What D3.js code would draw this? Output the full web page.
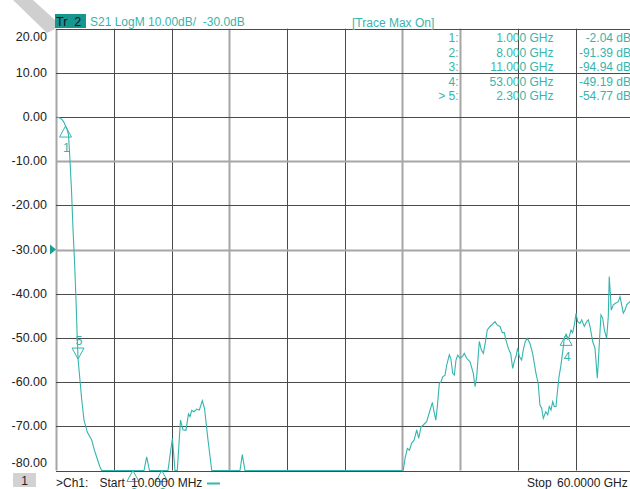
<!DOCTYPE html>
<html><head><meta charset="utf-8">
<script src="https://cdn.jsdelivr.net/npm/d3@7"></script>
<style>
body{margin:0;background:#fff}
svg{display:block;font-family:"Liberation Sans",Arial,sans-serif}
</style>
</head><body>
<svg id="c" width="630" height="489"></svg>
<script>
// ---- data ----
const freqGHz = [0.01,0.22,0.43,0.63,0.84,1.0,1.15,1.31,1.46,1.62,1.78,1.93,2.09,2.19,2.30,2.50,2.68,2.92,3.26,3.72,3.96,4.24,4.58,4.76,5.5,7.0,8.0,9.0,9.15,9.43,9.72,10.2,11.0,11.5,11.64,12.1,12.37,12.61,12.94,13.2,13.51,13.77,13.93,14.11,14.35,14.63,14.90,15.21,15.44,15.8,16.19,17.0,18.5,19.12,19.36,19.64,20.5,23,26,29,32,35,35.9,
36.09,36.27,36.51,36.72,36.96,37.2,37.48,37.69,37.93,38.17,38.52,38.87,39.11,39.21,39.46,39.62,39.83,40.01,40.18,40.42,40.6,40.87,41.02,41.22,41.39,41.56,41.74,41.98,42.26,42.42,42.67,43.02,43.36,43.54,43.71,43.98,44.19,44.4,44.65,44.81,45.09,45.44,45.61,45.85,46.13,46.37,46.58,46.75,46.99,47.24,47.45,47.65,47.79,47.97,48.14,48.38,48.55,48.76,48.96,49.24,49.52,49.87,50.1,50.28,50.46,50.63,50.88,51.09,51.25,51.43,51.61,51.77,51.95,52.08,52.26,52.44,52.65,52.81,53.0,53.16,53.33,53.51,53.68,53.85,54.03,54.2,54.44,54.62,54.89,55.14,55.31,55.48,55.76,56.0,56.24,56.34,56.45,56.62,56.8,56.97,57.21,57.38,57.48,57.59,57.69,57.9,58.18,58.42,58.6,58.77,58.94,59.12,59.29,59.46,59.63,60.0];
const s21dB = [0,-0.1,-0.2,-0.55,-1.2,-2.04,-2.7,-4.05,-9.7,-16.5,-25.6,-32.4,-41.4,-48.2,-54.77,-59.5,-64.0,-68.6,-71.3,-73.1,-75.1,-77.0,-79.2,-80.3,-85,-89,-91.39,-86,-81,-76.9,-81,-88,-94.94,-87,-82,-72.7,-81,-80.5,-68.6,-70.8,-70.9,-67.2,-67.8,-66.4,-66.7,-66.1,-66.3,-64.2,-66.0,-73.1,-80.3,-87,-89,-81,-76.4,-81,-88,-90,-87,-91,-89,-88,-82,
-79.9,-77.2,-75.0,-75.4,-73.8,-73.2,-70.8,-72.7,-70.1,-69.7,-68.9,-66.3,-64.6,-65.9,-68.6,-65.6,-60.3,-59.9,-58.8,-58.4,-56.1,-53.8,-54.6,-58.0,-58.4,-55.0,-53.9,-54.6,-54.1,-53.5,-54.6,-55.4,-58.0,-61.0,-58.8,-50.8,-52.7,-53.5,-50.5,-48.2,-47.4,-46.7,-46.3,-47.1,-47.4,-48.8,-48.8,-50.5,-52.3,-53.5,-56.9,-55.0,-54.2,-52.3,-54.2,-55.0,-52.7,-50.8,-50.1,-51.2,-53.5,-58.0,-60.3,-65.2,-65.9,-68.2,-66.7,-67.4,-65.5,-66.3,-64.4,-65.5,-65.5,-62.5,-58.8,-56.5,-53.1,-50.1,-49.19,-50.3,-49.7,-48.2,-48.8,-47.1,-44.4,-46.3,-46.7,-45.9,-47.4,-46.3,-45.9,-47.4,-50.8,-52.3,-59.1,-55.7,-51.2,-44.8,-45.5,-48.2,-50.1,-45.2,-36.1,-39.9,-43.7,-42.5,-42.1,-41.8,-40.7,-42.5,-44.4,-43.7,-42.5,-42.1,-41.8,-41.4];
const yTickValues = [20,10,0,-10,-20,-30,-40,-50,-60,-70,-80];
const markerIds = [1,2,3,4,5];
const markerFreqGHz = [1.0,8.0,11.0,53.0,2.3];
const markerDB = [-2.04,-91.39,-94.94,-49.19,-54.77];
const activeMarker = 5;
const refLevelDB = -30;
const headerTrace = "Tr  2";
const headerText = "S21 LogM 10.00dB/  -30.0dB";
const headerStatus = "[Trace Max On]";
const startText = "10.0000 MHz";
const stopText = "60.0000 GHz";

// ---- drawing ----
const svg = d3.select("#c");
const teal = "#35b5ae";
const pTop = 28.7, pBottom = 470.5, pLeft = 56, pRight = 633.5;
const x = d3.scaleLinear().domain([0.01, 60]).range([pLeft, pRight]);
const y = d3.scaleLinear().domain([20, -80]).range([pTop, pBottom]).clamp(true);

// page-curl band top-left
svg.append("polygon").attr("points","13,0 33,0 55,20 55,29 47,33").attr("fill","#cfcfcf");

// grid
const lightV = new Set([0,3,6,7]);
const lightH = new Set([-10,-30]);
const step = (60 - 0.01) / 10;
const g = svg.append("g");
d3.range(0, 11).forEach(i => {
  const xv = Math.round(x(0.01 + i * step)) + 0.5;
  g.append("line").attr("x1", xv).attr("x2", xv).attr("y1", pTop).attr("y2", pBottom)
    .attr("stroke", lightV.has(i) ? "#a6a6a6" : "#4a4a4a").attr("stroke-width", lightV.has(i) ? 2 : 1);
});
yTickValues.forEach(v => {
  const yv = Math.round(y(v)) + 0.5;
  g.append("line").attr("x1", pLeft).attr("x2", 630).attr("y1", yv).attr("y2", yv)
    .attr("stroke", lightH.has(v) ? "#a6a6a6" : "#4a4a4a").attr("stroke-width", lightH.has(v) ? 2 : 1);
});

// y axis labels
const ax = svg.append("g").attr("transform", "translate(47,0)")
  .call(d3.axisLeft(y).tickValues(yTickValues).tickSize(0).tickPadding(0).tickFormat(d => d.toFixed(2)));
ax.select(".domain").remove();
ax.selectAll(".tick").attr("transform", d => `translate(0,${Math.max(pTop + 8.5, Math.min(pBottom - 8, y(d)))})`);
ax.selectAll("text").attr("font-size", "12.5px").attr("fill", "#222").attr("font-family", '"Liberation Sans",Arial,sans-serif');

// reference level arrow
const ry = y(refLevelDB);
svg.append("path").attr("d", `M50,${ry-5}L56,${ry}L50,${ry+5}Z`).attr("fill", "#1a9e96");

// trace
const pts = freqGHz.map((f, i) => [f, s21dB[i]]);
svg.append("path").datum(pts)
  .attr("d", d3.line().x(d => x(d[0])).y(d => y(d[1])))
  .attr("fill", "none").attr("stroke", teal).attr("stroke-width", 1.1);

// markers
markerIds.forEach((id, i) => {
  const px = x(markerFreqGHz[i]);
  const py = y(markerDB[i]);
  const active = id === activeMarker;
  const h = 11, w = 6;
  const by = active ? py - h : py + h;
  svg.append("path").attr("d", `M${px},${py}L${px - w},${by}L${px + w},${by}Z`)
    .attr("fill", "none").attr("stroke", teal).attr("stroke-width", 1);
  svg.append("text").attr("x", px + 1).attr("y", active ? py - 18 : py + 22).attr("dy", "0.35em")
    .attr("text-anchor", "middle").attr("font-size", "12.5px").attr("fill", teal).text(id);
});

// header
svg.append("rect").attr("x", 55).attr("y", 14).attr("width", 31).attr("height", 14).attr("fill", "#16968f");
svg.append("text").attr("x", 56).attr("y", 26).attr("font-size", "12.5px").attr("fill", "#111")
  .style("white-space", "pre").text(headerTrace);
svg.append("text").attr("x", 90).attr("y", 26).attr("font-size", "12px").attr("fill", teal)
  .style("white-space", "pre").text(headerText);
svg.append("text").attr("x", 352).attr("y", 26.5).attr("font-size", "12px").attr("fill", teal).text(headerStatus);

// marker table
markerIds.forEach((id, i) => {
  const by = 42 + i * 14.5;
  svg.append("text").attr("x", 458.5).attr("y", by).attr("text-anchor", "end").attr("font-size", "12px").attr("fill", teal)
    .text((id === activeMarker ? "> " : "") + id + ":");
  svg.append("text").attr("x", 553.5).attr("y", by).attr("text-anchor", "end").attr("font-size", "12px").attr("fill", teal)
    .text(markerFreqGHz[i].toFixed(3) + " GHz");
  svg.append("text").attr("x", 631).attr("y", by).attr("text-anchor", "end").attr("font-size", "12px").attr("fill", teal)
    .text(markerDB[i].toFixed(2) + " dB");
});

// footer
svg.append("rect").attr("x", 13).attr("y", 473).attr("width", 23).attr("height", 14).attr("fill", "#d2d2d2");
svg.append("text").attr("x", 24.5).attr("y", 485).attr("text-anchor", "middle").attr("font-size", "12px").attr("fill", "#222").text("1");
svg.append("text").attr("x", 56).attr("y", 487).attr("font-size", "12px").attr("fill", "#222").text(">Ch1:");
svg.append("text").attr("x", 99.5).attr("y", 487).attr("font-size", "12px").attr("fill", "#222").text("Start");
svg.append("text").attr("x", 131).attr("y", 487).attr("font-size", "12px").attr("fill", "#222").text(startText);
svg.append("line").attr("x1", 207).attr("x2", 220).attr("y1", 483.5).attr("y2", 483.5).attr("stroke", teal).attr("stroke-width", 2);
svg.append("text").attr("x", 527).attr("y", 487).attr("font-size", "12px").attr("fill", "#222").text("Stop");
svg.append("text").attr("x", 557).attr("y", 487).attr("font-size", "12px").attr("fill", "#222").text(stopText);
</script>
</body></html>
